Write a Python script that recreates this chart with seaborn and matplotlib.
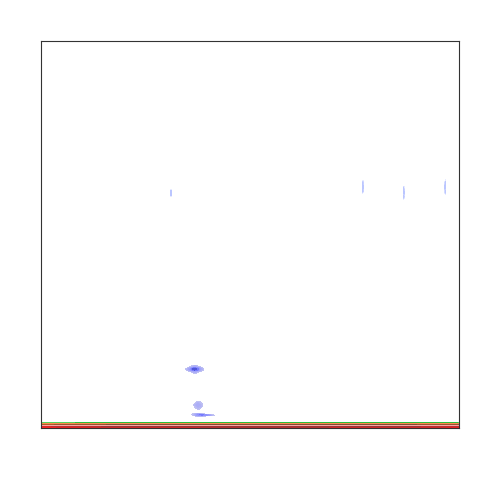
import matplotlib
matplotlib.use("Agg")
import matplotlib.pyplot as plt
from matplotlib.colors import LinearSegmentedColormap
import pandas as pd
import seaborn as sns

# strong blue specks near the bottom
blob_id = (["b1"] * 16) + (["b2"] * 4) + (["b3"] * 6)
blob_x = [35.4, 38.2, 36.8, 36.8, 36.0, 37.6, 36.0, 37.6,
          36.4, 37.2, 36.8, 36.8, 36.6, 37.0, 36.8, 36.8,
          37.1, 38.1, 37.6, 37.6,
          37.5, 38.3, 39.2, 40.1, 37.8, 37.8]
blob_y = [15.2, 15.2, 15.9, 14.5, 15.5, 15.5, 14.9, 14.9,
          15.2, 15.2, 15.4, 15.0, 15.2, 15.2, 15.2, 15.2,
          5.9, 5.9, 6.4, 5.4,
          3.4, 3.4, 3.35, 3.3, 3.6, 3.2]

# faint blue specks higher up
faint_id = (["f1"] * 4) + (["f2"] * 4) + (["f3"] * 4) + (["f4"] * 4)
faint_x = [77.0, 77.0, 76.9, 77.1,
           86.8, 86.8, 86.7, 86.9,
           96.7, 96.7, 96.6, 96.8,
           31.1, 31.1, 31.0, 31.2]
faint_y = [63.3, 61.3, 62.3, 62.3,
           61.8, 59.7, 60.8, 60.8,
           63.3, 61.0, 62.2, 62.2,
           61.2, 60.2, 60.7, 60.7]

# bottom band: three groups hugging y = 0
band_x = [-20, -12, -4, 4, 12, 20, 28, 36, 44, 52, 60, 68, 76, 84, 92, 100, 108, 116, 124]
green_y = [0.3, 1.05, 0.6, 0.95, 0.3, 1.05, 0.6, 0.95, 0.3, 1.05, 0.6, 0.95, 0.3, 1.05, 0.6, 0.95, 0.3, 1.05, 0.6]
orange_y = [0.2, 0.85, 0.5, 0.75, 0.2, 0.85, 0.5, 0.75, 0.2, 0.85, 0.5, 0.75, 0.2, 0.85, 0.5, 0.75, 0.2, 0.85, 0.5]
red_y = [0.08, 0.4, 0.22, 0.35, 0.08, 0.4, 0.22, 0.35, 0.08, 0.4, 0.22, 0.35, 0.08, 0.4, 0.22, 0.35, 0.08, 0.4, 0.22]

blue_col = "#0a2cff"
band_colors = {"green": "#1ac938", "orange": "#ff7c00", "red": "#e8000b"}
faint_cmap = LinearSegmentedColormap.from_list("faint", ["#f4f6ff", "#b4c0ff"])

blobs = pd.DataFrame({"x": blob_x, "y": blob_y, "grp": blob_id})
faint = pd.DataFrame({"x": faint_x, "y": faint_y, "grp": faint_id})
band = pd.concat([
    pd.DataFrame({"x": band_x, "y": green_y, "grp": "green"}),
    pd.DataFrame({"x": band_x, "y": orange_y, "grp": "orange"}),
    pd.DataFrame({"x": band_x, "y": red_y, "grp": "red"}),
], ignore_index=True)

sns.set_style("white")
fig = plt.figure(figsize=(4.8, 4.8), dpi=100)
ax = fig.add_axes([41 / 480, 52 / 480, 418 / 480, 387 / 480])

sns.kdeplot(data=band, x="x", y="y", hue="grp", palette=band_colors, fill=True,
            common_norm=False, bw_adjust=1.0, gridsize=300, legend=False, ax=ax)
sns.kdeplot(data=blobs, x="x", y="y", hue="grp",
            palette={k: blue_col for k in set(blob_id)}, fill=True,
            bw_adjust=1.0, gridsize=200, legend=False, ax=ax)

# the upper specks are barely visible in the original
for name, grp in faint.groupby("grp"):
    sns.kdeplot(data=grp, x="x", y="y", fill=True, cmap=faint_cmap,
                bw_adjust=0.8, gridsize=150, levels=5, thresh=0.2, ax=ax)

ax.set_xlim(0, 100)
ax.set_ylim(0, 100)
ax.set_xticks([])
ax.set_yticks([])
ax.set_xlabel("")
ax.set_ylabel("")
for s in ax.spines.values():
    s.set_color("#333333")
    s.set_linewidth(0.8)

fig.savefig("out.png", dpi=100)
